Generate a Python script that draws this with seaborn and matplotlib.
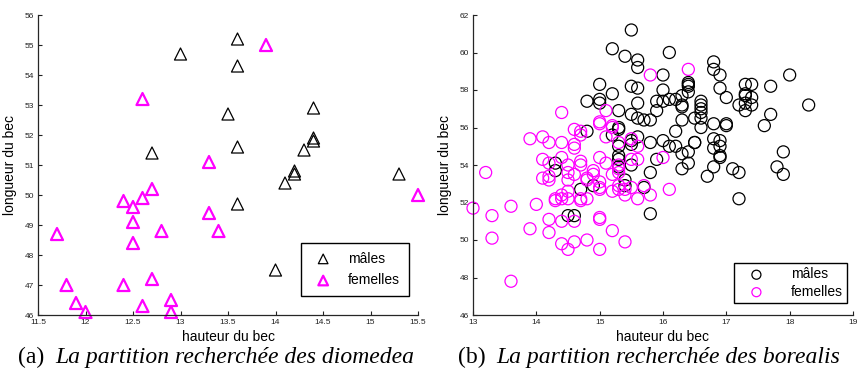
import pandas as pd
import seaborn as sns
import matplotlib.pyplot as plt

# diomedea (left panel) - triangles
dio_m_x = [13.6, 13.0, 13.6, 14.4, 13.5, 14.4, 14.4, 12.7, 13.6, 14.3, 14.2, 14.2, 14.1, 15.3, 13.6, 14.0]
dio_m_y = [55.2, 54.7, 54.3, 52.9, 52.7, 51.9, 51.8, 51.4, 51.6, 51.5, 50.8, 50.7, 50.4, 50.7, 49.7, 47.5]
dio_f_x = [13.9, 12.6, 13.3, 12.7, 12.6, 12.4, 12.5, 15.5, 13.3, 12.5, 11.7, 12.8, 13.4, 12.5,
           11.8, 12.4, 12.7, 11.9, 12.0, 12.6, 12.9, 12.9]
dio_f_y = [55.0, 53.2, 51.1, 50.2, 49.9, 49.8, 49.6, 50.0, 49.4, 49.1, 48.7, 48.8, 48.8, 48.4,
           47.0, 47.0, 47.2, 46.4, 46.1, 46.3, 46.5, 46.1]

# borealis (right panel) - circles
bor_m_x = [15.5, 15.2, 15.4, 16.1, 15.6, 15.6, 16.8, 16.8, 16.9, 16.0, 18.0, 15.0, 15.2, 15.5,
           15.6, 16.0, 16.4, 16.4, 16.4, 16.4, 16.9, 17.3, 17.4, 17.7, 17.3, 17.3, 17.4, 17.0,
           16.3, 16.2, 16.1, 16.0, 15.9, 15.9, 16.3, 16.3, 16.6, 16.6, 16.6, 16.6, 17.2, 17.3,
           17.4, 17.3, 18.3, 17.7, 17.6, 17.0, 17.0, 16.8, 16.5, 16.6, 16.6, 16.3, 16.2, 14.8,
           15.0, 15.0, 15.3, 15.5, 15.6, 15.6, 15.7, 15.8, 15.3, 15.3, 15.2, 14.8, 15.5, 15.5,
           15.6, 15.8, 16.0, 16.1, 16.2, 16.5, 16.5, 16.8, 16.8, 16.9, 16.9, 16.9, 16.9, 16.3,
           16.4, 16.4, 16.3, 16.8, 16.7, 17.1, 17.2, 17.2, 17.8, 17.9, 17.9, 15.9, 15.8, 15.7,
           15.8, 15.3, 15.3, 15.3, 15.3, 15.5, 15.4, 15.4, 14.9, 14.7, 14.3, 14.3, 14.5, 14.6]
bor_m_y = [61.2, 60.2, 59.8, 60.0, 59.6, 59.2, 59.5, 59.1, 58.8, 58.8, 58.8, 58.3, 57.8, 58.2,
           58.1, 58.0, 58.4, 58.3, 58.2, 57.9, 58.1, 58.3, 58.3, 58.2, 57.8, 57.7, 57.6, 57.6,
           57.7, 57.5, 57.5, 57.4, 57.4, 56.9, 57.2, 57.1, 57.4, 57.2, 57.0, 56.8, 57.2, 57.3,
           57.2, 56.9, 57.2, 56.7, 56.1, 56.2, 56.1, 56.2, 56.5, 56.5, 56.0, 56.4, 55.8, 57.4,
           57.5, 57.3, 56.9, 56.7, 57.3, 56.5, 56.4, 56.4, 56.0, 55.9, 55.6, 55.8, 55.3, 55.1,
           55.5, 55.2, 55.3, 55.0, 55.0, 55.2, 55.2, 55.4, 54.9, 55.3, 55.0, 54.5, 54.4, 54.6,
           54.7, 54.1, 53.8, 53.9, 53.4, 53.8, 53.6, 52.2, 53.9, 54.7, 53.5, 54.3, 53.6, 52.8,
           51.4, 55.0, 54.5, 54.3, 53.9, 54.0, 53.2, 52.9, 52.9, 52.7, 54.1, 53.7, 51.3, 51.3]
bor_f_x = [16.4, 15.8, 14.4, 15.1, 15.0, 15.0, 15.2, 15.2, 14.6, 14.7, 14.7, 15.1, 13.9, 14.1,
           14.2, 14.4, 14.6, 14.6, 15.3, 15.5, 15.6, 16.0, 15.0, 14.4, 14.1, 14.2, 14.7, 14.7,
           14.5, 15.1, 15.5, 15.6, 15.3, 15.3, 14.9, 14.9, 14.5, 14.6, 15.2, 15.3, 14.2, 14.2,
           14.1, 14.8, 14.8, 14.5, 15.0, 13.2, 15.0, 15.0, 15.3, 15.3, 15.5, 15.4, 15.2, 14.5,
           14.4, 14.4, 14.3, 14.3, 14.5, 14.7, 14.7, 14.8, 15.4, 15.6, 15.8, 16.1, 15.7, 14.0,
           13.6, 13.0, 13.3, 14.2, 14.4, 14.6, 15.0, 15.0, 13.9, 13.3, 14.2, 15.2, 14.8, 14.6,
           14.4, 15.4, 14.5, 15.0, 13.6]
bor_f_y = [59.1, 58.8, 56.8, 56.9, 56.3, 56.2, 56.1, 56.0, 55.9, 55.8, 55.6, 55.5, 55.4, 55.5,
           55.2, 55.2, 55.1, 54.9, 55.2, 55.4, 55.0, 54.4, 54.4, 54.4, 54.3, 54.1, 54.2, 54.0,
           54.0, 54.1, 54.3, 54.3, 54.0, 53.8, 53.7, 53.5, 53.6, 53.5, 53.5, 53.6, 53.4, 53.2,
           53.3, 53.3, 53.2, 53.2, 53.1, 53.6, 52.8, 52.7, 52.9, 52.7, 52.8, 52.7, 52.6, 52.6,
           52.4, 52.2, 52.2, 52.1, 52.2, 52.2, 52.1, 52.2, 52.4, 52.2, 52.4, 52.7, 52.9, 51.9,
           51.8, 51.7, 51.3, 51.1, 51.0, 51.0, 51.2, 51.1, 50.6, 50.1, 50.4, 50.5, 50.0, 49.9,
           49.8, 49.9, 49.5, 49.5, 47.8]

sns.set_style('ticks')
plt.rcParams['font.family'] = ['Liberation Sans', 'DejaVu Sans']
plt.rcParams['xtick.direction'] = 'in'
plt.rcParams['ytick.direction'] = 'in'
plt.rcParams['text.color'] = 'black'
plt.rcParams['axes.labelcolor'] = 'black'

fig = plt.figure(figsize=(8.58, 3.79), dpi=100)
ax1 = fig.add_axes([38 / 858, 64 / 379, 380 / 858, 300 / 379])
ax2 = fig.add_axes([473 / 858, 64 / 379, 380 / 858, 300 / 379])

MAG = '#ff00ff'

# left: triangles
sns.scatterplot(x=dio_m_x, y=dio_m_y, ax=ax1, marker='^', s=75, facecolor='none',
                edgecolor='black', linewidth=0.9, label='mâles', clip_on=False)
sns.scatterplot(x=dio_f_x, y=dio_f_y, ax=ax1, marker='^', s=75, facecolor='none',
                edgecolor=MAG, linewidth=1.6, label='femelles', clip_on=False)
ax1.set_xlim(11.5, 15.5)
ax1.set_ylim(46, 56)
ax1.set_xticks([11.5, 12, 12.5, 13, 13.5, 14, 14.5, 15, 15.5])
ax1.set_xticklabels(['11.5', '12', '12.5', '13', '13.5', '14', '14.5', '15', '15.5'])
ax1.set_yticks(range(46, 57))

# right: circles
sns.scatterplot(x=bor_m_x, y=bor_m_y, ax=ax2, marker='o', s=75, facecolor='none',
                edgecolor='black', linewidth=0.9, label='mâles', clip_on=False)
sns.scatterplot(x=bor_f_x, y=bor_f_y, ax=ax2, marker='o', s=75, facecolor='none',
                edgecolor=MAG, linewidth=0.9, label='femelles', clip_on=False)
ax2.set_xlim(13, 19)
ax2.set_ylim(46, 62)
ax2.set_xticks(range(13, 20))
ax2.set_yticks(range(46, 63, 2))

leg_opts = [
    (ax1, (0.975, 0.065), dict(borderpad=0.6, labelspacing=0.55, markerscale=0.8,
                               handletextpad=0.8)),
    (ax2, (0.985, 0.04), dict(borderpad=0.3, labelspacing=0.25, markerscale=0.75,
                              handletextpad=1.2, handlelength=2.6)),
]
for ax, anchor, extra in leg_opts:
    sns.despine(ax=ax)
    ax.spines['left'].set_linewidth(0.9)
    ax.spines['bottom'].set_linewidth(0.9)
    ax.tick_params(labelsize=6, length=3, width=0.8, pad=3, colors='#222222')
    ax.set_xlabel('hauteur du bec', fontsize=10, labelpad=3)
    ax.set_ylabel('longueur du bec', fontsize=10, labelpad=5)
    leg = ax.legend(loc='lower right', bbox_to_anchor=anchor, fontsize=10, fancybox=False,
                    edgecolor='black', framealpha=1, borderaxespad=0, **extra)
    leg.get_frame().set_linewidth(1.0)

# captions
cap_kw = dict(family=['Liberation Serif', 'DejaVu Serif'], fontsize=17, va='center',
              color='black')
fig.text(18 / 858, 1 - 357 / 379, '(a)', **cap_kw)
fig.text(55 / 858, 1 - 357 / 379, 'La partition recherchée des diomedea', style='italic', **cap_kw)
fig.text(458 / 858, 1 - 357 / 379, '(b)', **cap_kw)
fig.text(496 / 858, 1 - 357 / 379, 'La partition recherchée des borealis', style='italic', **cap_kw)

fig.savefig('out.png', dpi=100)
